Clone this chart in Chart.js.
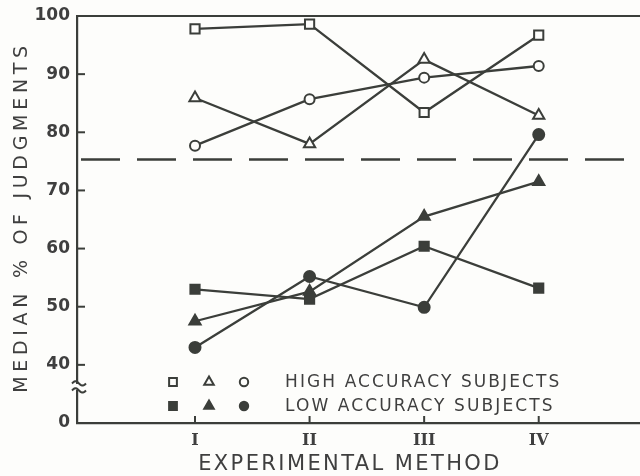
<!DOCTYPE html>
<html>
<head>
<meta charset="utf-8">
<script src="https://cdn.jsdelivr.net/npm/chart.js@4.4.1/dist/chart.umd.min.js"></script>
<style>
  html, body { margin: 0; padding: 0; background: #fdfdfb; }
  #wrap { width: 640px; height: 476px; }
</style>
</head>
<body>
<div id="wrap"><canvas id="c" width="640" height="476"></canvas></div>
<script>
// Experimental methods I–IV on a numeric x axis
const methods = [1, 2, 3, 4];
const methodLabels = ['I', 'II', 'III', 'IV'];

// Median % of judgments, high-accuracy subjects (open symbols)
const highSquare   = [97.8, 98.6, 83.4, 96.7];
const highTriangle = [85.9, 78.0, 92.5, 82.9];
const highCircle   = [77.7, 85.7, 89.4, 91.4];

// Median % of judgments, low-accuracy subjects (filled symbols)
const lowSquare    = [53.0, 51.3, 60.4, 53.2];
const lowTriangle  = [47.5, 52.6, 65.5, 71.5];
const lowCircle    = [43.0, 55.2, 49.9, 79.6];

// Dashed criterion level
const criterion = 75.3;

// Y axis is broken below 40: the bottom tick value stands for 0
const yTicks      = [30, 40, 50, 60, 70, 80, 90, 100];
const yTickLabels = ['0', '40', '50', '60', '70', '80', '90', '100'];

const legendRows = ['HIGH ACCURACY SUBJECTS', 'LOW ACCURACY SUBJECTS'];
const xTitle = 'EXPERIMENTAL METHOD';
const yTitle = 'MEDIAN % OF JUDGMENTS';

const INK = '#3b3e3a';
const TEXT = '#3f3f3f';
const PAPER = '#fdfdfb';
const X_MIN = -0.03, X_MAX = 4.884;

function series(values) {
  return methods.map((m, i) => ({ x: m, y: values[i] }));
}

function markerSet(values, style, filled, radius) {
  return {
    data: series(values),
    borderColor: INK,
    borderWidth: 2.3,
    pointStyle: style,
    pointRadius: radius,
    pointBorderWidth: 2,
    pointBorderColor: INK,
    pointBackgroundColor: filled ? INK : PAPER,
    tension: 0,
    fill: false
  };
}

const datasets = [
  Object.assign(markerSet(highSquare, 'rect', false, 6.5), { label: 'high-square' }),
  Object.assign(markerSet(highTriangle, 'triangle', false, 6.5), { label: 'high-triangle' }),
  Object.assign(markerSet(highCircle, 'circle', false, 5), { label: 'high-circle' }),
  Object.assign(markerSet(lowSquare, 'rect', true, 6.5), { label: 'low-square' }),
  Object.assign(markerSet(lowTriangle, 'triangle', true, 6.5), { label: 'low-triangle' }),
  Object.assign(markerSet(lowCircle, 'circle', true, 5.5), { label: 'low-circle' }),
  {
    label: 'criterion',
    data: [{ x: X_MIN, y: criterion }, { x: X_MAX, y: criterion }],
    borderColor: INK,
    borderWidth: 2.5,
    borderDash: [39, 17],
    borderDashOffset: -4,
    pointRadius: 0,
    fill: false
  }
];

// Frame line, inward ticks, axis break, legend and axis titles
const decorations = {
  id: 'decorations',
  beforeDraw(chart) {
    const ctx = chart.ctx;
    ctx.save();
    ctx.fillStyle = PAPER;
    ctx.fillRect(0, 0, chart.width, chart.height);
    ctx.restore();
  },
  afterDraw(chart) {
    const ctx = chart.ctx;
    const area = chart.chartArea;
    const xs = chart.scales.x, ys = chart.scales.y;
    ctx.save();
    ctx.strokeStyle = INK;
    ctx.fillStyle = INK;
    ctx.lineWidth = 2.2;

    // top frame line
    ctx.beginPath();
    ctx.moveTo(area.left - 1, ys.getPixelForValue(100));
    ctx.lineTo(area.right, ys.getPixelForValue(100));
    ctx.stroke();

    // inward y ticks
    ctx.lineWidth = 2;
    yTicks.slice(1, -1).forEach(v => {
      const y = ys.getPixelForValue(v);
      ctx.beginPath();
      ctx.moveTo(area.left, y);
      ctx.lineTo(area.left + 8, y);
      ctx.stroke();
    });
    // inward x ticks
    methods.forEach(m => {
      const x = xs.getPixelForValue(m);
      ctx.beginPath();
      ctx.moveTo(x, area.bottom);
      ctx.lineTo(x, area.bottom - 7);
      ctx.stroke();
    });

    // axis break mark between 0 and 40
    const yb = ys.getPixelForValue(36.2);
    ctx.fillStyle = PAPER;
    ctx.fillRect(area.left - 3, yb - 3, 6, 6);
    ctx.fillStyle = INK;
    [-3.5, 3.5].forEach(dy => {
      ctx.beginPath();
      const x0 = area.left - 5, x1 = area.left + 9;
      for (let i = 0; i <= 14; i++) {
        const x = x0 + (x1 - x0) * i / 14;
        const y = yb + dy - 2.2 * Math.sin((i / 14) * Math.PI * 2);
        if (i === 0) ctx.moveTo(x, y); else ctx.lineTo(x, y);
      }
      ctx.stroke();
    });

    // legend: three symbols per row, then the group name
    const symX = [173, 209, 244];
    const rowY = [382, 406];
    const groups = [[0, 1, 2], [3, 4, 5]];
    groups.forEach((idxs, r) => {
      idxs.forEach((di, k) => {
        const ds = chart.data.datasets[di];
        const opts = {
          pointStyle: ds.pointStyle,
          radius: ds.pointStyle === 'circle' ? 4.2 : 5.5,
          rotation: 0,
          borderWidth: 2
        };
        ctx.strokeStyle = INK;
        ctx.fillStyle = ds.pointBackgroundColor;
        ctx.lineWidth = 2;
        Chart.helpers.drawPoint(ctx, opts, symX[k], rowY[r]);
      });
      ctx.fillStyle = TEXT;
      ctx.font = '17px "DejaVu Sans"';
      ctx.letterSpacing = '2.1px';
      ctx.textAlign = 'left';
      ctx.textBaseline = 'middle';
      ctx.fillText(legendRows[r], 285, rowY[r] + 1);
    });

    // x title
    ctx.fillStyle = TEXT;
    ctx.font = '21px "DejaVu Sans"';
    ctx.letterSpacing = '2.4px';
    ctx.textAlign = 'center';
    ctx.textBaseline = 'middle';
    ctx.fillText(xTitle, 350, 465);

    // y title
    ctx.translate(22, 217);
    ctx.rotate(-Math.PI / 2);
    ctx.font = '19px "DejaVu Sans"';
    ctx.letterSpacing = '4.7px';
    ctx.fillText(yTitle, 0, 0);
    ctx.restore();
  }
};

new Chart(document.getElementById('c'), {
  type: 'line',
  data: { datasets },
  plugins: [decorations],
  options: {
    responsive: false,
    devicePixelRatio: 1,
    animation: false,
    layout: { autoPadding: false, padding: { top: 16, right: 0, left: 0, bottom: 0 } },
    plugins: { legend: { display: false }, tooltip: { enabled: false } },
    scales: {
      x: {
        type: 'linear',
        min: X_MIN,
        max: X_MAX,
        afterBuildTicks: s => { s.ticks = methods.map(v => ({ value: v })); },
        afterFit: s => { s.height = 53; s.paddingLeft = 0; s.paddingRight = 0; },
        grid: { display: false, drawTicks: false },
        border: { display: true, color: INK, width: 2.2 },
        ticks: {
          color: TEXT,
          padding: 8,
          maxRotation: 0,
          autoSkip: false,
          font: { family: '"DejaVu Serif"', size: 16, weight: 'bold' },
          callback: v => methodLabels[methods.indexOf(v)]
        }
      },
      y: {
        type: 'linear',
        min: 30,
        max: 100,
        afterBuildTicks: s => { s.ticks = yTicks.map(v => ({ value: v })); },
        afterFit: s => { s.width = 77; s.paddingTop = 0; s.paddingBottom = 0; },
        grid: { display: false, drawTicks: false },
        border: { display: true, color: INK, width: 2.2 },
        ticks: {
          color: TEXT,
          padding: 7,
          autoSkip: false,
          font: { family: '"DejaVu Sans"', size: 17, weight: 'bold' },
          callback: v => yTickLabels[yTicks.indexOf(v)]
        }
      }
    }
  }
});
</script>
</body>
</html>
